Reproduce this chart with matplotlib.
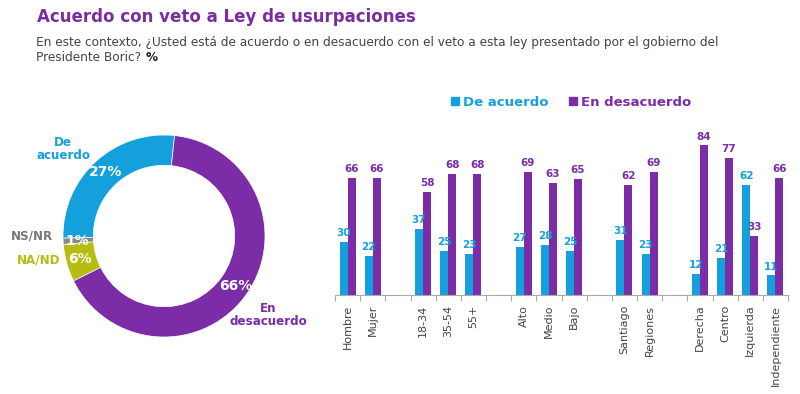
import matplotlib
matplotlib.use("Agg")
import matplotlib.pyplot as plt
import numpy as np
from matplotlib.patches import Patch
from matplotlib.text import Annotation

plt.rcParams["font.family"] = ["DejaVu Sans"]

# donut data
donut_labels = ["De acuerdo", "NS/NR", "NA/ND", "En desacuerdo"]
donut_values = [27, 1, 6, 66]

# bar data (None = empty spacer slot)
categories = ["Hombre", "Mujer", "", "18-34", "35-54", "55+", "", "Alto", "Medio", "Bajo", "",
              "Santiago", "Regiones", "", "Derecha", "Centro", "Izquierda", "Independiente"]
de_acuerdo = [30, 22, None, 37, 25, 23, None, 27, 28, 25, None, 31, 23, None, 12, 21, 62, 11]
en_desacuerdo = [66, 66, None, 58, 68, 68, None, 69, 63, 65, None, 62, 69, None, 84, 77, 33, 66]

BLUE = "#13a0dc"
PURPLE = "#7b2ca6"
OLIVE = "#b4bd10"
GRAY = "#888888"
TITLE = "#7a2e9e"
TEXT = "#444444"

fig = plt.figure(figsize=(8, 3.94), dpi=100)

fig.text(0.046, 0.957, "Acuerdo con veto a Ley de usurpaciones", fontsize=12, fontweight="bold",
         color=TITLE, va="center")
fig.text(0.045, 0.893, "En este contexto, ¿Usted está de acuerdo o en desacuerdo con el veto a esta ley "
         "presentado por el gobierno del", fontsize=8.7, color=TEXT, va="center")
t2 = fig.text(0.045, 0.855, "Presidente Boric?", fontsize=8.7, color=TEXT, va="center")
fig.add_artist(Annotation("%", xy=(1, 0.5), xycoords=t2, xytext=(3, 0), textcoords="offset points",
                          fontsize=8.7, color="#222222", fontweight="bold", va="center"))

# ---- donut ----
axd = fig.add_axes([63 / 800, (394 - 337) / 394, 202 / 800, 202 / 394])
start = 84
wedges, _ = axd.pie(donut_values, colors=[BLUE, GRAY, OLIVE, PURPLE], startangle=start,
                    counterclock=True, radius=1, wedgeprops=dict(width=0.3, edgecolor="white", linewidth=0.5))
axd.set_xlim(-1, 1)
axd.set_ylim(-1, 1)
axd.set_aspect("equal")
axd.axis("off")

cum = start
for v in donut_values:
    mid = np.deg2rad(cum + v * 3.6 / 2)
    cum += v * 3.6
    axd.text(0.86 * np.cos(mid), 0.86 * np.sin(mid), f"{v}%", color="white", fontsize=10,
             fontweight="bold", ha="center", va="center")

axd.text(-1.0, 0.86, "De\nacuerdo", color=BLUE, fontsize=8.6, fontweight="bold", ha="center",
         va="center", linespacing=1.05)
axd.text(-1.1, 0.0, "NS/NR", color="#777777", fontsize=8.6, fontweight="bold", ha="right", va="center")
axd.text(-1.03, -0.24, "NA/ND", color=OLIVE, fontsize=8.6, fontweight="bold", ha="right", va="center")
axd.text(1.03, -0.78, "En\ndesacuerdo", color=PURPLE, fontsize=8.6, fontweight="bold", ha="center",
         va="center", linespacing=1.05)

# ---- bars ----
ax = fig.add_axes([335 / 800, (394 - 295) / 394, 453 / 800, (295 - 130) / 394])
x = np.arange(len(categories))
w = 0.32
for i in x:
    a, d = de_acuerdo[i], en_desacuerdo[i]
    if a is None:
        continue
    ax.bar(i - w / 2, a, w, color=BLUE)
    ax.bar(i + w / 2, d, w, color=PURPLE)
    ax.text(i - w / 2, a + 2.2, str(a), color=BLUE, fontsize=7.5, fontweight="bold", ha="center", va="bottom")
    ax.text(i + w / 2, d + 2.2, str(d), color=PURPLE, fontsize=7.5, fontweight="bold", ha="center", va="bottom")

ax.set_xlim(-0.5, len(categories) - 0.5)
ax.set_ylim(0, (295 - 130) / 1.78)
ax.set_xticks(x)
ax.set_xticklabels(categories, rotation=90, fontsize=8, color=TEXT)
ax.tick_params(axis="x", which="major", length=0, pad=7)
ax.set_xticks(np.arange(-0.5, len(categories)), minor=True)
ax.tick_params(axis="x", which="minor", length=4, color="#aaaaaa", width=0.8)
ax.set_yticks([])
for s in ["top", "right", "left"]:
    ax.spines[s].set_visible(False)
ax.spines["bottom"].set_color("#aaaaaa")

handles = [Patch(color=BLUE, label="De acuerdo"), Patch(color=PURPLE, label="En desacuerdo")]
leg = fig.legend(handles=handles, loc="center", bbox_to_anchor=(0.714, 0.741), ncol=2, frameon=False,
                 handlelength=0.6, handleheight=0.6, handletextpad=0.3, columnspacing=1.6,
                 prop=dict(size=9.5, weight="bold"))
for t, c in zip(leg.get_texts(), [BLUE, PURPLE]):
    t.set_color(c)

fig.savefig("out.png", dpi=100)
